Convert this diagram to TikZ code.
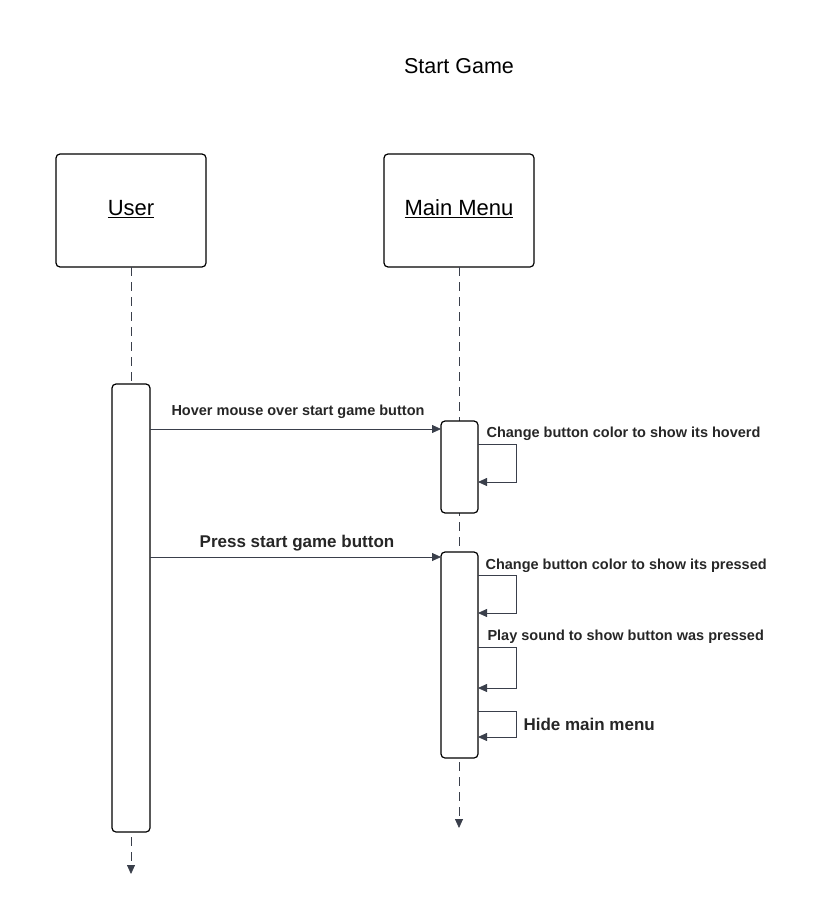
\documentclass[tikz,border=0pt]{standalone}
\usepackage{fontspec}
\setmainfont{Liberation Sans}
\usetikzlibrary{arrows.meta}
\definecolor{ln}{HTML}{3A3F4B}
\begin{document}
\begin{tikzpicture}[x=1pt,y=-1pt,
  box/.style={draw=black,line width=1.2pt,rounded corners=4pt},
  act/.style={draw=black,fill=white,line width=1.2pt,rounded corners=4pt},
  life/.style={draw=ln,dash pattern=on 9pt off 6pt,line width=0.8pt},
  msg/.style={draw=ln,line width=0.8pt,-{Triangle[length=9pt,width=8pt]}},
  lbl/.style={font=\bfseries\fontsize{14.5}{16}\selectfont,text=black!85},
  blbl/.style={font=\bfseries\fontsize{17}{19}\selectfont,text=black!85}]
\useasboundingbox (0,0) rectangle (818,901);
\node[font=\fontsize{21.5}{24}\selectfont] (title) at (459,66) {Start Game};
\draw[box] (56,154) rectangle (206,267);
\node[font=\fontsize{22}{26}\selectfont] (user) at (131,209) {\underline{User}};
\draw[box] (384,154) rectangle (534,267);
\node[font=\fontsize{22}{26}\selectfont] (mm) at (459,209) {\underline{Main Menu}};
\coordinate (ut) at (131,267); \coordinate (ub) at (131,874);
\coordinate (mt) at (459,267); \coordinate (mb) at (459,828);
\draw[life,-{Triangle[length=9pt,width=8pt]}] (ut) -- (ub);
\draw[life,-{Triangle[length=9pt,width=8pt]}] (mt) -- (mb);
\node[act,minimum width=38pt,minimum height=448pt,inner sep=0] (ua) at (131,608) {};
\node[act,minimum width=37pt,minimum height=92pt,inner sep=0] (a1) at (459.5,467) {};
\node[act,minimum width=37pt,minimum height=206pt,inner sep=0] (a2) at (459.5,655) {};
\coordinate (m1s) at (150,429); \coordinate (m1e) at (441,429);
\draw[msg] (m1s) -- (m1e);
\node[lbl] (l1) at (298,412) {Hover mouse over start game button};
\coordinate (m2s) at (150,557); \coordinate (m2e) at (441,557);
\draw[msg] (m2s) -- (m2e);
\node[blbl] (l2) at (297,543) {Press start game button};
\draw[msg] (478,444) -- (516,444) -- (516,482) -- (478,482);
\node[lbl,anchor=west] (s1) at (483,434) {Change button color to show its hoverd};
\draw[msg] (478,575) -- (516,575) -- (516,613) -- (478,613);
\node[lbl,anchor=west] (s2) at (482,566) {Change button color to show its pressed};
\draw[msg] (478,647) -- (516,647) -- (516,688) -- (478,688);
\node[lbl,anchor=west] (s3) at (484,637) {Play sound to show button was pressed};
\draw[msg] (478,711) -- (516,711) -- (516,737) -- (478,737);
\node[blbl,anchor=west] (s4) at (520,724) {Hide main menu};
\end{tikzpicture}
\end{document}
